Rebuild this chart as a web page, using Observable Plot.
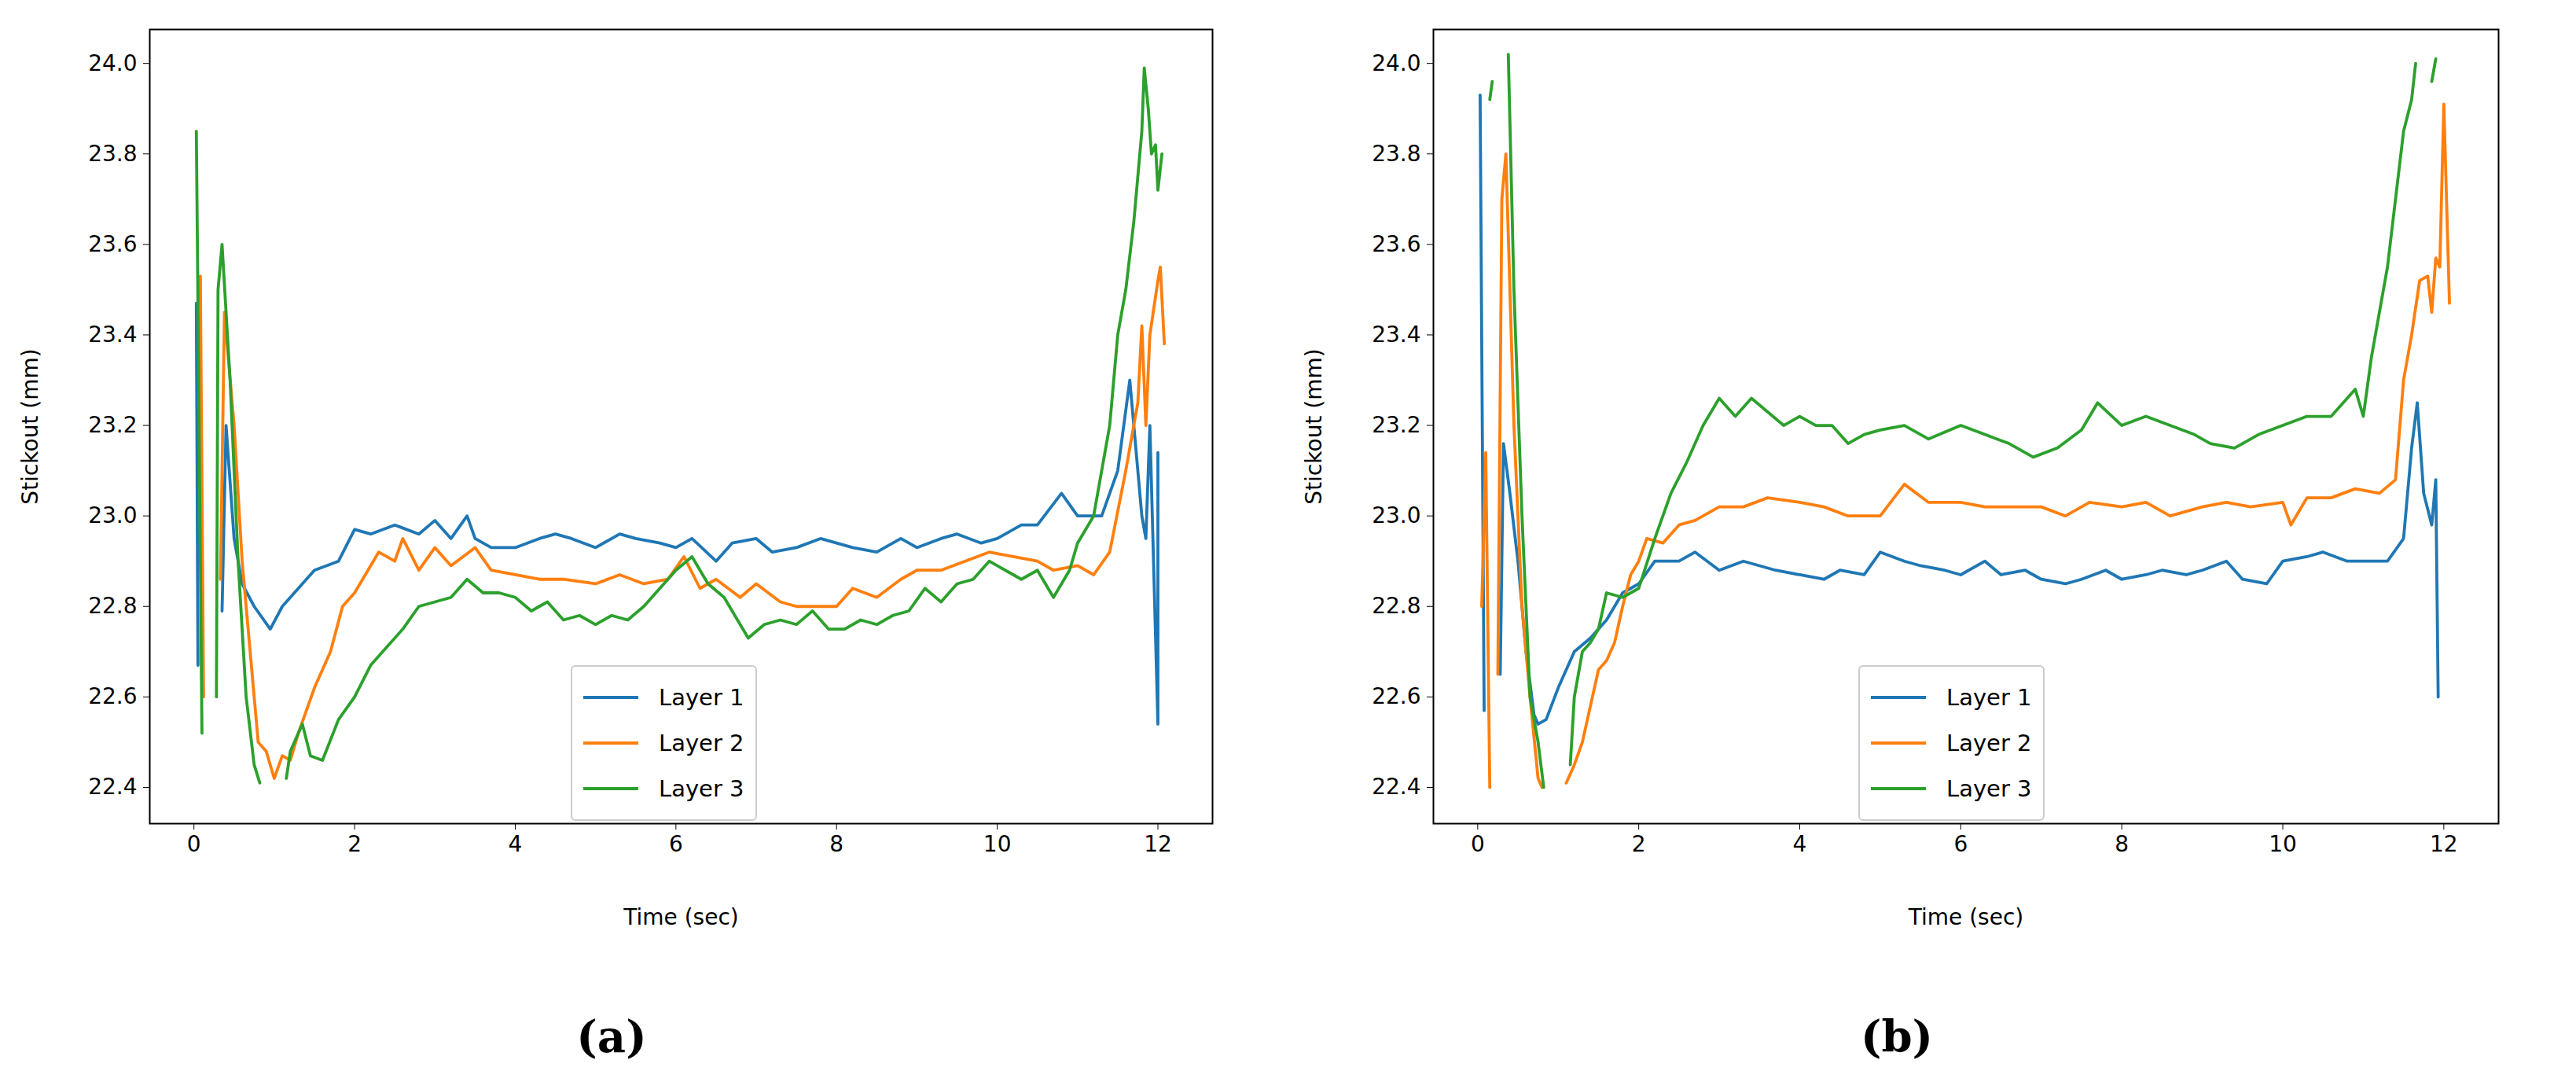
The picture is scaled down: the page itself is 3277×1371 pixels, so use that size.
<!DOCTYPE html>
<html><head><meta charset="utf-8">
<script src="https://cdn.jsdelivr.net/npm/d3@7"></script>
<script src="https://cdn.jsdelivr.net/npm/@observablehq/plot@0.6"></script>
<style>
body{margin:0;background:#fff;width:3277px;height:1371px;position:relative;overflow:hidden;font-family:"DejaVu Sans",sans-serif}
.p{position:absolute;top:0}
.leg{position:absolute;border:2px solid #ccc;border-radius:6px;background:#fff;font-size:29px;padding:10px 14px;line-height:58px}
.leg div{display:flex;align-items:center}
.leg span{display:inline-block;width:70px;height:4px;margin-right:26px}
.cap{position:absolute;font-family:"DejaVu Serif",serif;font-weight:bold;font-size:56px;transform:translate(-50%,-50%)}
</style></head><body>
<div id="a" class="p" style="left:0"></div>
<div id="b" class="p" style="left:1640px"></div>
<div class="cap" style="left:778px;top:1318px">(a)</div>
<div class="cap" style="left:2413px;top:1318px">(b)</div>
<script>
const layers = ["Layer 1","Layer 2","Layer 3"];
const colors = ["#1f77b4","#ff7f0e","#2ca02c"];
const yTicks = [22.4,22.6,22.8,23.0,23.2,23.4,23.6,23.8,24.0];
const xTicks = [0,2,4,6,8,10,12];

// (a)
const a1t=[0.03,0.05,0.06,0.35,0.4,0.5,0.6,0.75,0.95,1.1,1.3,1.5,1.8,2.0,2.2,2.5,2.8,3.0,3.2,3.4,3.5,3.7,4.0,4.3,4.5,4.7,5.0,5.3,5.5,5.8,6.0,6.2,6.5,6.7,7.0,7.2,7.5,7.8,8.0,8.2,8.5,8.8,9.0,9.3,9.5,9.8,10.0,10.3,10.5,10.8,11.0,11.3,11.5,11.65,11.8,11.85,11.9,12.0,12.0];
const a1v=[23.47,22.67,null,22.79,23.2,22.95,22.85,22.8,22.75,22.8,22.84,22.88,22.9,22.97,22.96,22.98,22.96,22.99,22.95,23.0,22.95,22.93,22.93,22.95,22.96,22.95,22.93,22.96,22.95,22.94,22.93,22.95,22.9,22.94,22.95,22.92,22.93,22.95,22.94,22.93,22.92,22.95,22.93,22.95,22.96,22.94,22.95,22.98,22.98,23.05,23.0,23.0,23.1,23.3,23.0,22.95,23.2,22.54,23.14];
const a2t=[0.05,0.08,0.12,0.2,0.33,0.38,0.5,0.6,0.7,0.8,0.9,1.0,1.1,1.2,1.3,1.4,1.5,1.7,1.85,2.0,2.1,2.3,2.5,2.6,2.8,3.0,3.2,3.5,3.7,4.0,4.3,4.6,5.0,5.3,5.6,5.9,6.1,6.3,6.5,6.8,7.0,7.3,7.5,7.8,8.0,8.2,8.5,8.8,9.0,9.3,9.6,9.9,10.2,10.5,10.7,11.0,11.2,11.4,11.6,11.75,11.8,11.85,11.9,12.0,12.03,12.08];
const a2v=[23.47,23.53,22.6,null,22.86,23.45,23.2,22.9,22.7,22.5,22.48,22.42,22.47,22.46,22.52,22.57,22.62,22.7,22.8,22.83,22.86,22.92,22.9,22.95,22.88,22.93,22.89,22.93,22.88,22.87,22.86,22.86,22.85,22.87,22.85,22.86,22.91,22.84,22.86,22.82,22.85,22.81,22.8,22.8,22.8,22.84,22.82,22.86,22.88,22.88,22.9,22.92,22.91,22.9,22.88,22.89,22.87,22.92,23.1,23.25,23.42,23.2,23.4,23.52,23.55,23.38];
const a3t=[0.03,0.1,0.2,0.28,0.3,0.35,0.45,0.55,0.65,0.75,0.82,1.0,1.15,1.2,1.35,1.45,1.6,1.8,2.0,2.2,2.4,2.6,2.8,3.0,3.2,3.4,3.6,3.8,4.0,4.2,4.4,4.6,4.8,5.0,5.2,5.4,5.6,5.8,6.0,6.2,6.4,6.6,6.8,6.9,7.1,7.3,7.5,7.7,7.9,8.1,8.3,8.5,8.7,8.9,9.1,9.3,9.5,9.7,9.9,10.1,10.3,10.5,10.7,10.9,11.0,11.2,11.4,11.5,11.6,11.7,11.8,11.83,11.88,11.92,11.97,12.0,12.05];
const a3v=[23.85,22.52,null,22.6,23.5,23.6,23.3,22.9,22.6,22.45,22.41,null,22.42,22.48,22.54,22.47,22.46,22.55,22.6,22.67,22.71,22.75,22.8,22.81,22.82,22.86,22.83,22.83,22.82,22.79,22.81,22.77,22.78,22.76,22.78,22.77,22.8,22.84,22.88,22.91,22.85,22.82,22.76,22.73,22.76,22.77,22.76,22.79,22.75,22.75,22.77,22.76,22.78,22.79,22.84,22.81,22.85,22.86,22.9,22.88,22.86,22.88,22.82,22.88,22.94,23.0,23.2,23.4,23.5,23.65,23.85,23.99,23.9,23.8,23.82,23.72,23.8];

// (b)
const b1t=[0.03,0.08,0.15,0.28,0.32,0.4,0.5,0.6,0.7,0.75,0.85,1.0,1.1,1.2,1.4,1.6,1.8,2.0,2.2,2.5,2.7,3.0,3.3,3.5,3.7,4.0,4.3,4.5,4.8,5.0,5.3,5.5,5.8,6.0,6.3,6.5,6.8,7.0,7.3,7.5,7.8,8.0,8.3,8.5,8.8,9.0,9.3,9.5,9.8,10.0,10.3,10.5,10.8,11.0,11.3,11.5,11.6,11.67,11.75,11.85,11.9,11.93];
const b1v=[23.93,22.57,null,22.65,23.16,23.05,22.9,22.7,22.56,22.54,22.55,22.62,22.66,22.7,22.73,22.77,22.83,22.85,22.9,22.9,22.92,22.88,22.9,22.89,22.88,22.87,22.86,22.88,22.87,22.92,22.9,22.89,22.88,22.87,22.9,22.87,22.88,22.86,22.85,22.86,22.88,22.86,22.87,22.88,22.87,22.88,22.9,22.86,22.85,22.9,22.91,22.92,22.9,22.9,22.9,22.95,23.15,23.25,23.05,22.98,23.08,22.6];
const b2t=[0.05,0.1,0.15,0.2,0.25,0.3,0.35,0.45,0.55,0.65,0.75,0.8,1.0,1.1,1.2,1.3,1.4,1.5,1.6,1.7,1.8,1.9,2.0,2.1,2.3,2.5,2.7,3.0,3.3,3.6,4.0,4.3,4.6,5.0,5.3,5.6,6.0,6.3,6.6,7.0,7.3,7.6,8.0,8.3,8.6,9.0,9.3,9.6,10.0,10.1,10.3,10.6,10.9,11.2,11.4,11.5,11.6,11.7,11.8,11.85,11.9,11.95,12.0,12.07];
const b2v=[22.8,23.14,22.4,null,22.65,23.7,23.8,23.2,22.8,22.6,22.42,22.4,null,22.41,22.45,22.5,22.58,22.66,22.68,22.72,22.8,22.87,22.9,22.95,22.94,22.98,22.99,23.02,23.02,23.04,23.03,23.02,23.0,23.0,23.07,23.03,23.03,23.02,23.02,23.02,23.0,23.03,23.02,23.03,23.0,23.02,23.03,23.02,23.03,22.98,23.04,23.04,23.06,23.05,23.08,23.3,23.4,23.52,23.53,23.45,23.57,23.55,23.91,23.47];
const b3t=[0.15,0.18,0.25,0.38,0.45,0.55,0.65,0.75,0.82,1.0,1.15,1.2,1.3,1.4,1.5,1.6,1.8,2.0,2.2,2.4,2.6,2.8,3.0,3.2,3.4,3.6,3.8,4.0,4.2,4.4,4.6,4.8,5.0,5.3,5.6,6.0,6.3,6.6,6.9,7.2,7.5,7.7,8.0,8.3,8.6,8.9,9.1,9.4,9.7,10.0,10.3,10.6,10.9,11.0,11.1,11.2,11.3,11.4,11.5,11.6,11.65,11.75,11.85,11.9];
const b3v=[23.92,23.96,null,24.02,23.5,23.0,22.6,22.5,22.4,null,22.45,22.6,22.7,22.72,22.75,22.83,22.82,22.84,22.95,23.05,23.12,23.2,23.26,23.22,23.26,23.23,23.2,23.22,23.2,23.2,23.16,23.18,23.19,23.2,23.17,23.2,23.18,23.16,23.13,23.15,23.19,23.25,23.2,23.22,23.2,23.18,23.16,23.15,23.18,23.2,23.22,23.22,23.28,23.22,23.35,23.45,23.55,23.7,23.85,23.92,24.0,null,23.96,24.01];

function rows(ts, vs, layer){ return ts.map((t,i)=>({t, v: vs[i], layer})); }

function chart(data, mL, mR, width){
  return Plot.plot({
    width, height:1180,
    marginLeft:mL, marginRight:mR, marginTop:37, marginBottom:133,
    style:{fontFamily:"DejaVu Sans, sans-serif", fontSize:"28px", background:"#fff", color:"#000"},
    x:{domain:[-0.55,12.68]},
    y:{domain:[22.32,24.075]},
    color:{domain:layers, range:colors},
    marks:[
      Plot.line(data,{x:"t",y:"v",z:"layer",stroke:"layer",strokeWidth:3.8,clip:true,curve:"linear"}),
      Plot.frame({stroke:"#000",strokeWidth:2}),
      Plot.axisX({ticks:xTicks,tickFormat:d=>d,tickSize:8,tickPadding:8,label:"Time (sec)",labelAnchor:"center",labelArrow:"none",labelOffset:128,fontSize:28}),
      Plot.axisY({ticks:yTicks,tickFormat:d3.format(".1f"),tickSize:8,tickPadding:8,label:"Stickout (mm)",labelAnchor:"center",labelArrow:"none",labelOffset:162,fontSize:28})
    ]
  });
}
const dataA=[...rows(a1t,a1v,"Layer 1"),...rows(a2t,a2v,"Layer 2"),...rows(a3t,a3v,"Layer 3")];
const dataB=[...rows(b1t,b1v,"Layer 1"),...rows(b2t,b2v,"Layer 2"),...rows(b3t,b3v,"Layer 3")];
document.getElementById("a").append(chart(dataA,190,98,1640));
document.getElementById("b").append(chart(dataB,183,99,1637));

function legend(left){
  const d=document.createElement("div");d.className="leg";d.style.left=left+"px";d.style.top="846px";
  layers.forEach((l,i)=>{const r=document.createElement("div");const s=document.createElement("span");s.style.background=colors[i];r.append(s,l);d.append(r);});
  document.body.append(d);
}
legend(726);legend(2364);
</script></body></html>
